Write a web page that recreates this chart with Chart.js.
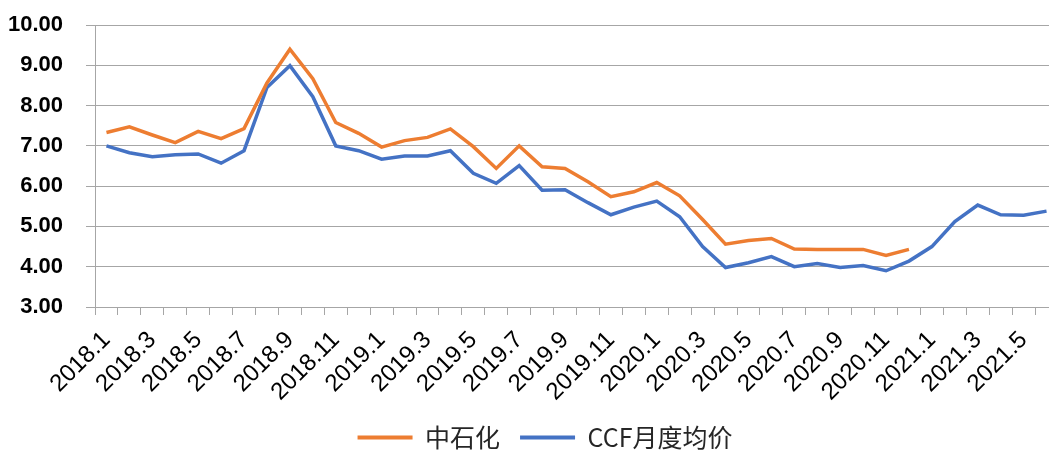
<!DOCTYPE html>
<html>
<head>
<meta charset="utf-8">
<script src="https://cdn.jsdelivr.net/npm/chart.js@4/dist/chart.umd.min.js"></script>
<style>
  html, body { margin: 0; padding: 0; background: #fff; overflow: hidden; }
  #wrap { width: 1090px; height: 450px; }
</style>
</head>
<body>
<div id="wrap"><canvas id="c" width="1090" height="450"></canvas></div>
<script>
const categories = [
  '2018.1','2018.2','2018.3','2018.4','2018.5','2018.6','2018.7','2018.8','2018.9','2018.10','2018.11','2018.12',
  '2019.1','2019.2','2019.3','2019.4','2019.5','2019.6','2019.7','2019.8','2019.9','2019.10','2019.11','2019.12',
  '2020.1','2020.2','2020.3','2020.4','2020.5','2020.6','2020.7','2020.8','2020.9','2020.10','2020.11','2020.12',
  '2021.1','2021.2','2021.3','2021.4','2021.5','2021.6'
];
const sinopec = [
  7.33, 7.47, 7.27, 7.08, 7.36, 7.18, 7.43, 8.56, 9.40, 8.67, 7.58, 7.31,
  6.97, 7.13, 7.21, 7.42, 6.98, 6.44, 7.00, 6.48, 6.44, 6.11, 5.74, 5.86,
  6.09, 5.76, 5.17, 4.56, 4.65, 4.70, 4.44, 4.43, 4.43, 4.43, 4.28, 4.43,
  null, null, null, null, null, null
];
const ccf = [
  7.00, 6.83, 6.73, 6.78, 6.80, 6.57, 6.88, 8.45, 8.99, 8.22, 7.00, 6.88,
  6.67, 6.75, 6.75, 6.88, 6.32, 6.07, 6.51, 5.90, 5.91, 5.59, 5.29, 5.48,
  5.63, 5.24, 4.50, 3.98, 4.10, 4.25, 4.00, 4.08, 3.98, 4.03, 3.90, 4.14,
  4.50, 5.12, 5.53, 5.29, 5.28, 5.38
];
const seriesNames = ['中石化', 'CCF月度均价'];
const yTicks = { min: 3, max: 10, step: 1 };

const gridColor = '#a6a6a6';

new Chart(document.getElementById('c'), {
  type: 'line',
  data: {
    labels: categories,
    datasets: [
      { label: seriesNames[0], data: sinopec, borderColor: '#ED7D31', backgroundColor: '#ED7D31',
        borderWidth: 3.5, pointRadius: 0, tension: 0, spanGaps: false },
      { label: seriesNames[1], data: ccf, borderColor: '#4472C4', backgroundColor: '#4472C4',
        borderWidth: 3.5, pointRadius: 0, tension: 0 }
    ]
  },
  options: {
    responsive: false,
    animation: false,
    layout: { padding: { left: 0, right: 0, top: 25, bottom: 0 } },
    plugins: {
      tooltip: { enabled: false },
      legend: {
        position: 'bottom',
        maxHeight: 45,
        labels: {
          boxWidth: 55,
          boxHeight: 4,
          padding: 20,
          color: '#262626',
          font: { family: '"Noto Sans CJK SC", "Liberation Sans", sans-serif', size: 25, lineHeight: 1 },
          generateLabels(chart) {
            const items = Chart.defaults.plugins.legend.labels.generateLabels(chart);
            items.forEach(it => { it.lineWidth = 0; });
            return items;
          }
        }
      }
    },
    scales: {
      x: {
        offset: true,
        afterFit(scale) { scale.height = 98; },
        grid: { display: true, drawOnChartArea: false, drawTicks: true, tickLength: 8, offset: true, color: gridColor, lineWidth: 1 },
        border: { display: true, color: gridColor, width: 1 },
        ticks: {
          autoSkip: false,
          maxRotation: 45,
          minRotation: 45,
          padding: 11,
          color: '#000',
          font: { family: '"Liberation Sans", Arial, sans-serif', size: 24 },
          callback(value, index) { return index % 2 === 0 ? this.getLabelForValue(value) : ''; }
        }
      },
      y: {
        min: yTicks.min,
        max: yTicks.max,
        afterFit(scale) { scale.width = 95; scale.paddingTop = 0; scale.paddingBottom = 0; },
        grid: { color: gridColor, lineWidth: 1, tickLength: 9 },
        border: { display: true, color: gridColor, width: 1 },
        ticks: {
          stepSize: yTicks.step,
          padding: 23,
          color: '#000',
          font: { family: '"Liberation Sans", Arial, sans-serif', size: 22, weight: 'bold' },
          callback(v) { return Number(v).toFixed(2); }
        }
      },
      yRightSpace: {
        position: 'right',
        display: true,
        afterFit(scale) { scale.width = 32; },
        grid: { display: false, drawTicks: false },
        border: { display: false },
        ticks: { display: false }
      }
    }
  }
});
</script>
</body>
</html>
